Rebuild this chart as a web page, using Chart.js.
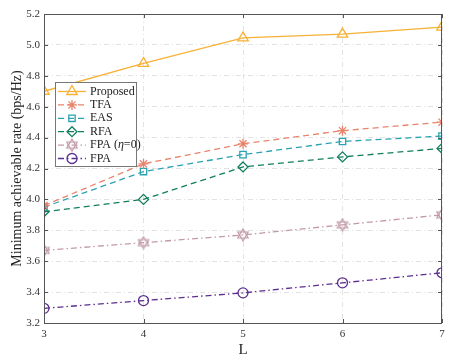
<!DOCTYPE html>
<html>
<head>
<meta charset="UTF-8">
<script src="https://cdn.jsdelivr.net/npm/chart.js"></script>
<style>
  body { margin: 0; background: #fff; }
  #wrap { width: 457px; height: 363px; }
</style>
</head>
<body>
<div id="wrap"><canvas id="grafico" width="457" height="363"></canvas></div>
<script>
// data
const L = [3, 4, 5, 6, 7];
const proposed = [4.70, 4.88, 5.045, 5.07, 5.115];
const tfa = [3.96, 4.23, 4.36, 4.445, 4.50];
const eas = [3.95, 4.18, 4.29, 4.375, 4.41];
const rfa = [3.92, 4.00, 4.21, 4.275, 4.33];
const fpaEta0 = [3.67, 3.72, 3.77, 3.835, 3.90];
const fpa = [3.295, 3.345, 3.395, 3.46, 3.525];
const yTicks = [3.2, 3.4, 3.6, 3.8, 4, 4.2, 4.4, 4.6, 4.8, 5, 5.2];

const FONT = "'Liberation Serif', 'Times New Roman', serif";

// six-pointed star marker for FPA (eta=0)
function hexagram(color) {
  const c = document.createElement("canvas");
  c.width = 14; c.height = 14;
  const g = c.getContext("2d");
  g.strokeStyle = color; g.lineWidth = 1.2;
  const r = 6, cx = 7, cy = 7;
  for (const off of [-Math.PI / 2, Math.PI / 2]) {
    g.beginPath();
    for (let i = 0; i < 3; i++) {
      const a = off + i * 2 * Math.PI / 3;
      const x = cx + r * Math.cos(a), y = cy + r * Math.sin(a);
      i ? g.lineTo(x, y) : g.moveTo(x, y);
    }
    g.closePath(); g.stroke();
  }
  return c;
}

function serie(label, data, color, style, dash, radius) {
  return {
    label: label, data: data,
    borderColor: color, backgroundColor: "rgba(0,0,0,0)",
    borderWidth: 1.3, borderDash: dash,
    pointStyle: style, pointRadius: radius, pointBorderColor: color,
    pointBorderWidth: 1.3, pointBackgroundColor: "rgba(0,0,0,0)",
    tension: 0, fill: false
  };
}

// box, inner ticks and legend in the MATLAB look
const cajaPlugin = {
  id: "caja",
  afterDraw(chart) {
    const ctx = chart.ctx, a = chart.chartArea;
    const xs = chart.scales.x, ys = chart.scales.y;
    ctx.save();
    ctx.strokeStyle = "#555"; ctx.lineWidth = 1; ctx.setLineDash([]);
    ctx.strokeRect(a.left + 0.5, a.top + 0.5, a.right - a.left - 1, a.bottom - a.top);
    ctx.beginPath();
    for (const v of yTicks) {
      const y = Math.round(ys.getPixelForValue(v)) + 0.5;
      ctx.moveTo(a.left, y); ctx.lineTo(a.left + 4, y);
      ctx.moveTo(a.right, y); ctx.lineTo(a.right - 4, y);
    }
    for (const v of L) {
      const x = Math.round(xs.getPixelForValue(v)) + 0.5;
      ctx.moveTo(x, a.bottom); ctx.lineTo(x, a.bottom - 4);
      ctx.moveTo(x, a.top); ctx.lineTo(x, a.top + 4);
    }
    ctx.stroke();

    // legend
    const lx = 55, ly = 82, lw = 81, lh = 84;
    ctx.fillStyle = "#fff";
    ctx.fillRect(lx, ly, lw, lh);
    ctx.strokeStyle = "#777";
    ctx.strokeRect(lx + 0.5, ly + 0.5, lw, lh);
    chart.data.datasets.forEach((ds, i) => {
      const y = ly + 9.5 + i * 13.4;
      ctx.strokeStyle = ds.borderColor; ctx.lineWidth = 1.3;
      ctx.setLineDash(ds.borderDash || []);
      ctx.beginPath(); ctx.moveTo(lx + 3, y); ctx.lineTo(lx + 31, y); ctx.stroke();
      ctx.setLineDash([]);
      ctx.fillStyle = "rgba(0,0,0,0)";
      Chart.helpers.drawPoint(ctx, {
        pointStyle: ds.pointStyle, radius: ds.pointRadius, borderWidth: 1.3
      }, lx + 17, y);
      ctx.fillStyle = "#222";
      ctx.font = "12px " + FONT;
      ctx.textBaseline = "middle";
      if (ds.label === "FPA (η=0)") {
        let x = lx + 35;
        ctx.fillText("FPA (", x, y); x += ctx.measureText("FPA (").width;
        ctx.font = "italic 12px " + FONT;
        ctx.fillText("η", x, y); x += ctx.measureText("η").width;
        ctx.font = "12px " + FONT;
        ctx.fillText("=0)", x, y);
      } else {
        ctx.fillText(ds.label, lx + 35, y);
      }
    });
    ctx.restore();
  }
};

const ctx = document.getElementById("grafico").getContext("2d");
new Chart(ctx, {
  type: "line",
  data: {
    datasets: [
      serie("Proposed", proposed, "#f6b136", "triangle", [], 6),
      serie("TFA", tfa, "#e8846c", "star", [6, 4], 5),
      serie("EAS", eas, "#2aa3b0", "rect", [6, 4], 4.5),
      serie("RFA", rfa, "#117f5d", "rectRot", [6, 4], 5),
      serie("FPA (η=0)", fpaEta0, "#c19aa9", hexagram("#c19aa9"), [6, 3, 1.5, 3], 6),
      serie("FPA", fpa, "#5c2e8f", "circle", [6, 3, 1.5, 3], 5)
    ].map(ds => Object.assign(ds, { data: ds.data.map((v, i) => ({ x: L[i], y: v })) }))
  },
  options: {
    responsive: false,
    animation: false,
    layout: { padding: { top: 14, right: 15, left: 7, bottom: 0 } },
    plugins: { legend: { display: false }, tooltip: { enabled: false } },
    scales: {
      x: {
        type: "linear", min: 3, max: 7,
        afterFit(s) { s.height = 40; },
        afterBuildTicks(s) { s.ticks = L.map(v => ({ value: v })); },
        grid: { color: "#e2e2e2", drawTicks: false },
        border: { display: false, dash: [5, 3, 1, 3] },
        ticks: { color: "#333", padding: 5, font: { family: FONT, size: 11 } },
        title: { display: true, text: "L", color: "#222", padding: { top: 0, bottom: 4 }, font: { family: FONT, size: 15 } }
      },
      y: {
        min: 3.2, max: 5.2,
        afterFit(s) { s.width = 37; },
        afterBuildTicks(s) { s.ticks = yTicks.map(v => ({ value: v })); },
        grid: { color: "#e2e2e2", drawTicks: false },
        border: { display: false, dash: [5, 3, 1, 3] },
        ticks: { color: "#333", padding: 4, font: { family: FONT, size: 11 } },
        title: { display: true, text: "Minimum achievable rate (bps/Hz)", color: "#222", padding: 2, font: { family: FONT, size: 14 } }
      }
    }
  },
  plugins: [cajaPlugin]
});
</script>
</body>
</html>
